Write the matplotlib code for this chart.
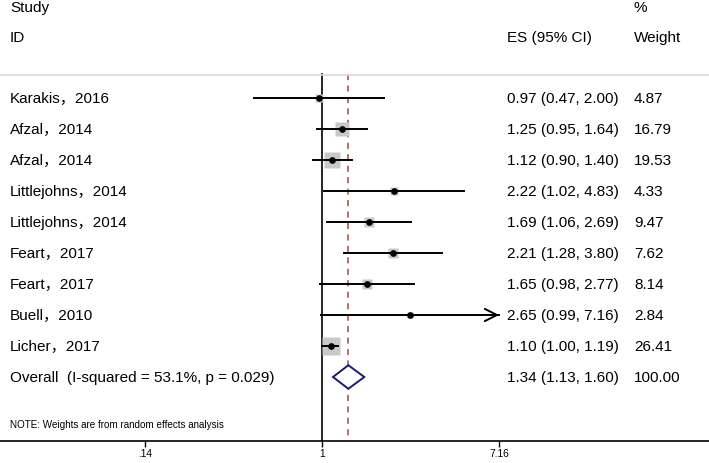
import numpy as np
import matplotlib
matplotlib.use("Agg")
import matplotlib.pyplot as plt
from matplotlib.patches import Polygon
import matplotlib.transforms as mtransforms

plt.rcParams['font.family'] = ['Liberation Sans', 'Noto Sans CJK SC', 'DejaVu Sans']

studies = ["Karakis，2016", "Afzal，2014", "Afzal，2014", "Littlejohns，2014",
           "Littlejohns，2014", "Feart，2017", "Feart，2017", "Buell，2010", "Licher，2017"]
es = [0.97, 1.25, 1.12, 2.22, 1.69, 2.21, 1.65, 2.65, 1.10]
lo = [0.47, 0.95, 0.90, 1.02, 1.06, 1.28, 0.98, 0.99, 1.00]
hi = [2.00, 1.64, 1.40, 4.83, 2.69, 3.80, 2.77, 7.16, 1.19]
weights = [4.87, 16.79, 19.53, 4.33, 9.47, 7.62, 8.14, 2.84, 26.41]
overall_label = "Overall  (I-squared = 53.1%, p = 0.029)"
overall_es, overall_lo, overall_hi, overall_w = 1.34, 1.13, 1.60, 100.00
xticks = [0.14, 1, 7.16]
xticklabels = [".14", "1", "7.16"]
axis_max = 7.16

W, H = 709, 464
fig = plt.figure(figsize=(W / 100, H / 100), dpi=100)
ax = fig.add_axes([0, 22 / H, 1, 442 / H])
ax.set_xscale('log')
ax.set_xlim(np.exp(-322 / 90), np.exp((709 - 322) / 90))
ybot = (442 - 99) / 31
ax.set_ylim(ybot, -99 / 31)
for s in ['top', 'left', 'right']:
    ax.spines[s].set_visible(False)
ax.spines['bottom'].set_linewidth(1.2)
ax.set_yticks([])
ax.set_xticks(xticks)
ax.set_xticklabels(xticklabels)
ax.xaxis.set_minor_locator(matplotlib.ticker.NullLocator())
ax.tick_params(axis='x', direction='out', length=4.3, width=1, labelsize=7.4, pad=0.5)

trans = mtransforms.blended_transform_factory(ax.transAxes, ax.transData)
fs = 11
xl, xes, xw = 10 / W, 507 / W, 634 / W

# headers
ax.text(xl, -2.935, "Study", transform=trans, fontsize=fs, va='center')
ax.text(xl, -1.968, "ID", transform=trans, fontsize=fs, va='center')
ax.text(xes, -1.968, "ES (95% CI)", transform=trans, fontsize=fs, va='center')
ax.text(xw, -2.935, "%", transform=trans, fontsize=fs, va='center')
ax.text(xw, -1.968, "Weight", transform=trans, fontsize=fs, va='center')
ax.plot([0, 1], [-0.742, -0.742], transform=trans, color='#d9d9d9', lw=1.2)

# reference lines
ax.plot([1, 1], [-0.77, ybot], color='black', lw=1.2, zorder=1)
ax.plot([overall_es, overall_es], [-0.77, ybot], color='#a04848', lw=1.1,
        ls=(0, (4, 3.5)), zorder=1)

maxw = max(weights)
for i, (name, e, l, h, w) in enumerate(zip(studies, es, lo, hi, weights)):
    side = 18 * np.sqrt(w / maxw)
    ax.plot([e], [i], marker='s', ms=side * 0.72, color='#c8c8c8', mec='none', zorder=2)
    ax.plot([l, h], [i, i], color='black', lw=1.4, zorder=3)
    if h >= axis_max:
        ax.annotate('', xy=(h, i), xytext=(h * 0.9, i),
                    arrowprops=dict(arrowstyle='->', lw=1.4, color='black',
                                    mutation_scale=22, shrinkA=0, shrinkB=0), zorder=3)
    ax.plot([e], [i], marker='o', ms=3.8, color='black', zorder=4)
    ax.text(xl, i, name, transform=trans, fontsize=fs, va='center')
    ax.text(xes, i, f"{e:.2f} ({l:.2f}, {h:.2f})", transform=trans, fontsize=fs, va='center')
    ax.text(xw, i, f"{w:.2f}", transform=trans, fontsize=fs, va='center')

io = len(studies)
dia = Polygon([[overall_lo, io], [overall_es, io - 0.38], [overall_hi, io],
               [overall_es, io + 0.38]], closed=True, fill=True, fc='white',
              ec='#1a1a6e', lw=1.4, zorder=3)
ax.add_patch(dia)
ax.text(xl, io, overall_label, transform=trans, fontsize=fs, va='center')
ax.text(xes, io, f"{overall_es:.2f} ({overall_lo:.2f}, {overall_hi:.2f})",
        transform=trans, fontsize=fs, va='center')
ax.text(xw, io, f"{overall_w:.2f}", transform=trans, fontsize=fs, va='center')

ax.text(xl, 10.516, "NOTE: Weights are from random effects analysis",
        transform=trans, fontsize=7.1, va='center')

fig.savefig("out.png", dpi=100)
